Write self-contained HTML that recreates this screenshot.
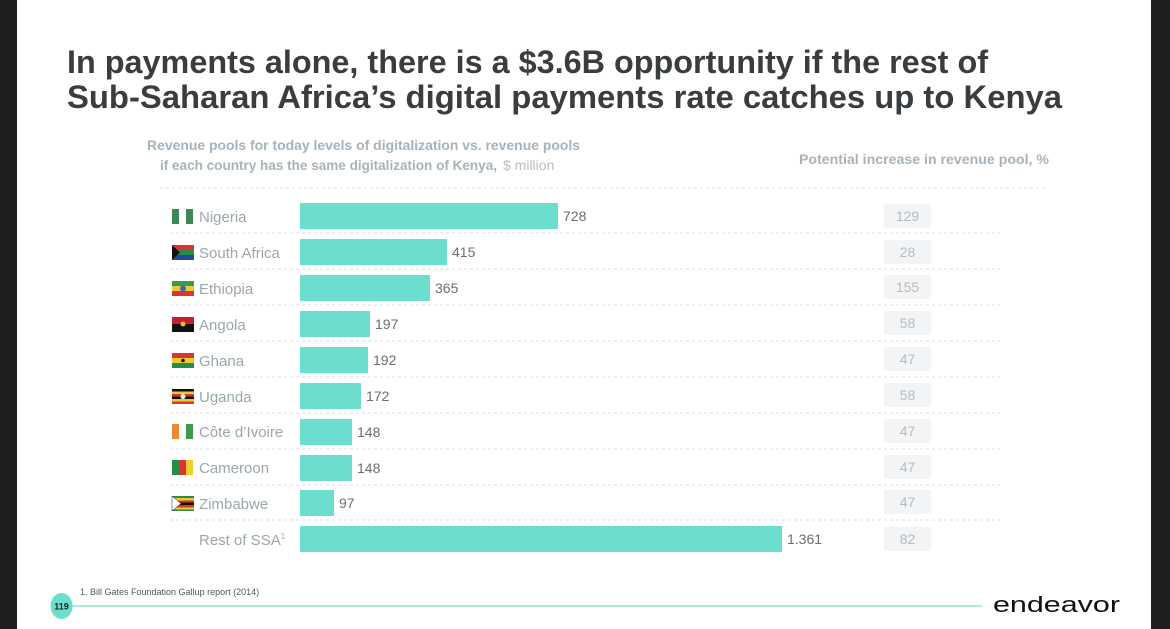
<!DOCTYPE html>
<html><head><meta charset="utf-8"><style>
html,body{margin:0;padding:0;background:#fff;}
svg{display:block;font-family:"Liberation Sans",sans-serif;}
</style></head><body>
<svg width="1170" height="629" viewBox="0 0 1170 629" xmlns="http://www.w3.org/2000/svg">
<rect x="0" y="0" width="1170" height="629" fill="#fff"/>
<rect x="0" y="0" width="17" height="629" fill="#1e1e1e"/>
<rect x="1151" y="0" width="19" height="629" fill="#1e1e1e"/>
<text x="67" y="73" font-size="32" font-weight="bold" fill="#3a3d40" textLength="921" lengthAdjust="spacingAndGlyphs">In payments alone, there is a $3.6B opportunity if the rest of</text>
<text x="67" y="108" font-size="32" font-weight="bold" fill="#3a3d40" textLength="995" lengthAdjust="spacingAndGlyphs">Sub-Saharan Africa’s digital payments rate catches up to Kenya</text>
<text x="147" y="150" font-size="14" font-weight="bold" fill="#a7b3bb" textLength="433" lengthAdjust="spacingAndGlyphs">Revenue pools for today levels of digitalization vs. revenue pools</text>
<text x="160" y="170" font-size="14" fill="#a7b3bb"><tspan font-weight="bold" textLength="337" lengthAdjust="spacingAndGlyphs">if each country has the same digitalization of Kenya,</tspan><tspan dx="6" fill="#b5bec4">$ million</tspan></text>
<text x="799" y="164" font-size="14" font-weight="bold" fill="#a7b3bb" textLength="250" lengthAdjust="spacingAndGlyphs">Potential increase in revenue pool, %</text>
<g stroke="#dcdfe2" stroke-width="1" stroke-dasharray="3,3">
<line x1="160" y1="188" x2="1045" y2="188"/>
<line x1="170" y1="233" x2="1000" y2="233"/>
<line x1="170" y1="269" x2="1000" y2="269"/>
<line x1="170" y1="305" x2="1000" y2="305"/>
<line x1="170" y1="341" x2="1000" y2="341"/>
<line x1="170" y1="377" x2="1000" y2="377"/>
<line x1="170" y1="413" x2="1000" y2="413"/>
<line x1="170" y1="449" x2="1000" y2="449"/>
<line x1="170" y1="485" x2="1000" y2="485"/>
<line x1="170" y1="520" x2="1000" y2="520"/>
</g>
<g fill="#6bdecd">
<rect x="300" y="203" width="258" height="26"/>
<rect x="300" y="239" width="147" height="26"/>
<rect x="300" y="275" width="130" height="26"/>
<rect x="300" y="311" width="70" height="26"/>
<rect x="300" y="347" width="68" height="26"/>
<rect x="300" y="383" width="61" height="26"/>
<rect x="300" y="419" width="52" height="26"/>
<rect x="300" y="455" width="52" height="26"/>
<rect x="300" y="490" width="34" height="26"/>
<rect x="300" y="526" width="482" height="26"/>
</g>
<g font-size="14" fill="#6a6d70">
<text x="563" y="221">728</text>
<text x="452" y="257">415</text>
<text x="435" y="293">365</text>
<text x="375" y="329">197</text>
<text x="373" y="365">192</text>
<text x="366" y="401">172</text>
<text x="357" y="437">148</text>
<text x="357" y="473">148</text>
<text x="339" y="508">97</text>
<text x="787" y="544">1.361</text>
</g>
<g font-size="15" fill="#9aa6ae">
<text x="199" y="222">Nigeria</text>
<text x="199" y="258">South Africa</text>
<text x="199" y="294">Ethiopia</text>
<text x="199" y="330">Angola</text>
<text x="199" y="366">Ghana</text>
<text x="199" y="402">Uganda</text>
<text x="199" y="437">Côte d’Ivoire</text>
<text x="199" y="473">Cameroon</text>
<text x="199" y="509">Zimbabwe</text>
<text x="199" y="545">Rest of SSA<tspan font-size="8" dy="-6">1</tspan></text>
</g>
<!-- flags -->
<g>
<rect x="172" y="209" width="7" height="15" fill="#3a8a55"/><rect x="186" y="209" width="7" height="15" fill="#3a8a55"/>
<rect x="172" y="245" width="22" height="15" fill="#1e4aa0"/><rect x="172" y="245" width="22" height="6" fill="#d33"/><rect x="172" y="250" width="22" height="5" fill="#2a8a4a"/><polygon points="172,245 180,252.5 172,260" fill="#111"/>
<rect x="172" y="281" width="22" height="5" fill="#3a9a50"/><rect x="172" y="286" width="22" height="5" fill="#e8cc30"/><rect x="172" y="291" width="22" height="5" fill="#d33"/><circle cx="183" cy="288.5" r="3" fill="#3a6ab0"/>
<rect x="172" y="317" width="22" height="8" fill="#c82030"/><rect x="172" y="324" width="22" height="8" fill="#111"/><circle cx="183" cy="324" r="2.5" fill="#e8c020"/>
<rect x="172" y="353" width="22" height="5" fill="#d33"/><rect x="172" y="358" width="22" height="5" fill="#e8cc30"/><rect x="172" y="363" width="22" height="5" fill="#2a8a4a"/><circle cx="183" cy="360.5" r="1.8" fill="#111"/>
<rect x="172" y="389" width="22" height="15" fill="#111"/><rect x="172" y="391.5" width="22" height="2.5" fill="#e8cc30"/><rect x="172" y="394" width="22" height="2.5" fill="#d33"/><rect x="172" y="399" width="22" height="2.5" fill="#e8cc30"/><rect x="172" y="401.5" width="22" height="2.5" fill="#d33"/><circle cx="183" cy="396.5" r="2.5" fill="#fff"/>
<rect x="172" y="424" width="7" height="15" fill="#f08a30"/><rect x="186" y="424" width="7" height="15" fill="#3a9a50"/>
<rect x="172" y="460" width="7" height="15" fill="#2a8a4a"/><rect x="179" y="460" width="7" height="15" fill="#d33"/><rect x="186" y="460" width="7" height="15" fill="#f0d030"/>
<rect x="172" y="496" width="22" height="15" fill="#2a8a4a"/><rect x="172" y="498" width="22" height="2.5" fill="#e8cc30"/><rect x="172" y="500.5" width="22" height="2.5" fill="#d33"/><rect x="172" y="502.5" width="22" height="2.5" fill="#111"/><rect x="172" y="505" width="22" height="2.5" fill="#d33"/><rect x="172" y="507.5" width="22" height="2" fill="#e8cc30"/><polygon points="172,496 181,503.5 172,511" fill="#fff" stroke="#222" stroke-width="0.5"/>
</g>
<g fill="#f3f4f5">
<rect x="884" y="204" width="47" height="24" rx="2"/>
<rect x="884" y="240" width="47" height="24" rx="2"/>
<rect x="884" y="275" width="47" height="24" rx="2"/>
<rect x="884" y="311" width="47" height="24" rx="2"/>
<rect x="884" y="347" width="47" height="24" rx="2"/>
<rect x="884" y="383" width="47" height="24" rx="2"/>
<rect x="884" y="419" width="47" height="24" rx="2"/>
<rect x="884" y="455" width="47" height="24" rx="2"/>
<rect x="884" y="490" width="47" height="24" rx="2"/>
<rect x="884" y="527" width="47" height="24" rx="2"/>
</g>
<g font-size="14" fill="#b5bcc1" text-anchor="middle">
<text x="907.5" y="221">129</text>
<text x="907.5" y="257">28</text>
<text x="907.5" y="292">155</text>
<text x="907.5" y="328">58</text>
<text x="907.5" y="364">47</text>
<text x="907.5" y="400">58</text>
<text x="907.5" y="436">47</text>
<text x="907.5" y="472">47</text>
<text x="907.5" y="507">47</text>
<text x="907.5" y="544">82</text>
</g>
<text x="80" y="595" font-size="9" fill="#555">1.  Bill Gates Foundation Gallup report (2014)</text>
<line x1="62" y1="606" x2="982" y2="606" stroke="#8fe3d6" stroke-width="1.5"/>
<ellipse cx="61.5" cy="606" rx="11" ry="13" fill="#6bdecd"/>
<text x="61.5" y="609.5" font-size="9" font-weight="bold" fill="#222" text-anchor="middle">119</text>
<text x="993" y="612" font-size="22" fill="#111" textLength="127" lengthAdjust="spacingAndGlyphs">endeavor</text>
</svg>
</body></html>
